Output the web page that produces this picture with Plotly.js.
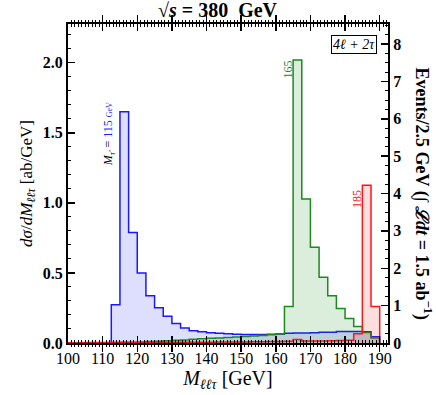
<!DOCTYPE html>
<html>
<head>
<meta charset="utf-8">
<script src="https://cdn.plot.ly/plotly-3.0.1.min.js"></script>
<style>
  html, body { margin: 0; padding: 0; background: #fff; }
  #chart { width: 436px; height: 395px; }
</style>
</head>
<body>
<div id="chart"></div>
<script>
// Histogram bins: 2.5 GeV wide, 100 -> 190 GeV
const binStart = 100;
const binWidth = 2.5;

// dsigma/dM [ab/GeV] per bin
const blue115 = [0, 0, 0, 0, 0,
  0.273, 1.65, 0.788, 0.499, 0.337, 0.252, 0.190, 0.140, 0.107, 0.088,
  0.080, 0.074, 0.070, 0.066, 0.062, 0.060, 0.060, 0.061, 0.062, 0.064,
  0.070, 0.072, 0.072, 0.074, 0.076, 0.077, 0.082, 0.082, 0.082, 0.080, 0.045];

const green165 = [0.002, 0.002, 0.003, 0.003, 0.004, 0.004, 0.005, 0.006, 0.008, 0.010,
  0.013, 0.016, 0.019, 0.022, 0.026, 0.030, 0.033, 0.036, 0.040, 0.043,
  0.047, 0.050, 0.053, 0.058, 0.064, 0.261, 2.019, 1.028, 0.684, 0.470,
  0.337, 0.247, 0.175, 0.118, 0.075, 0.035];

const red185 = [0.001, 0.001, 0.002, 0.002, 0.002, 0.003, 0.003, 0.003, 0.004, 0.004,
  0.004, 0.005, 0.005, 0.005, 0.006, 0.006, 0.006, 0.007, 0.007, 0.008,
  0.008, 0.009, 0.009, 0.010, 0.010, 0.012, 0.025, 0.014, 0.014, 0.015,
  0.016, 0.018, 0.020, 0.066, 1.126, 0.261];

// events per bin = lumi (1.5 ab^-1) * bin width * dsigma/dM
const lumi = 1.5;
const xRange = [100, 192.4];
const yMax = 2.276;

const serif = "Liberation Serif, DejaVu Serif, serif";

// bin edges + closing point so the step drops to zero at the end
function stepTrace(vals, line, fill) {
  const x = vals.map((_, i) => binStart + i * binWidth);
  x.push(binStart + vals.length * binWidth);
  return {
    type: "scatter",
    mode: "lines",
    x: x,
    y: vals.concat([0]),
    line: { shape: "hv", color: line, width: 1.5 },
    fill: "tozeroy",
    fillcolor: fill,
    hoverinfo: "skip",
    showlegend: false
  };
}

function ghost(xa, ya) {
  return { type: "scatter", x: [binStart], y: [0], xaxis: xa, yaxis: ya, mode: "markers",
    marker: { opacity: 0 }, hoverinfo: "skip", showlegend: false };
}

const data = [
  stepTrace(blue115, "rgb(25,25,255)", "rgba(0,0,255,0.13)"),
  stepTrace(green165, "rgb(30,135,30)", "rgba(0,128,0,0.14)"),
  stepTrace(red185, "rgb(255,20,20)", "rgba(255,0,0,0.13)"),
  ghost("x", "y2"),
  ghost("x2", "y3"),
  ghost("x2", "y4")
];

const frame = { ticks: "inside", ticklen: 7, tickwidth: 1.5, tickcolor: "#000",
  showline: true, linewidth: 2, linecolor: "#000", showgrid: false, zeroline: false };

// minor tick axes: no line, no labels, short ticks
const minorAx = { ticks: "inside", ticklen: 3, tickwidth: 1, tickcolor: "#000",
  showline: false, showgrid: false, zeroline: false, showticklabels: false };

const layout = {
  width: 436,
  height: 395,
  margin: { l: 68, r: 48, t: 24, b: 52 },
  paper_bgcolor: "#fff",
  plot_bgcolor: "#fff",
  font: { family: serif, color: "#000" },
  annotations: [
    {
      text: "<b>√<i>s</i>&nbsp;=&nbsp;380&nbsp;&nbsp;GeV</b>",
      xref: "paper", yref: "paper", x: 0.47, y: 1.0, yshift: 1,
      xanchor: "center", yanchor: "bottom", showarrow: false,
      font: { family: serif, size: 20 }
    },
    {
      text: "<b>Events/2.5 GeV (∫ <i>ℒdt</i> = 1.5 ab<sup>−1</sup>)</b>",
      xref: "paper", yref: "paper", x: 1.108, y: 0.47,
      xanchor: "center", yanchor: "middle", textangle: 90, showarrow: false,
      font: { family: serif, size: 18 }
    },
    {
      text: "<i>4ℓ + 2τ</i>",
      xref: "paper", yref: "paper", x: 0.966, y: 0.965,
      xanchor: "right", yanchor: "top", showarrow: false,
      bordercolor: "#000", borderwidth: 1, borderpad: 1, bgcolor: "#fff",
      font: { family: serif, size: 14 }
    },
    {
      text: "<span style='color:#000'><i>M</i><sub><i>τ'</i></sub> = </span>115 <span style='font-size:8px'>GeV</span>",
      xref: "x", yref: "y", x: 111.9, y: 1.49, textangle: -90, showarrow: false,
      font: { family: serif, size: 12, color: "rgb(25,25,255)" }
    },
    {
      text: "165",
      xref: "x", yref: "y", x: 163.5, y: 1.95, textangle: -90, showarrow: false,
      font: { family: serif, size: 12, color: "rgb(30,135,30)" }
    },
    {
      text: "185",
      xref: "x", yref: "y", x: 183.3, y: 1.03, textangle: -90, showarrow: false,
      font: { family: serif, size: 12, color: "rgb(255,20,20)" }
    }
  ],
  xaxis: Object.assign({}, frame, {
    range: xRange,
    tickmode: "linear", tick0: 100, dtick: 10,
    mirror: "allticks",
    tickfont: { family: serif, size: 16 },
    title: { text: "<i>M</i><sub><i>ℓℓτ</i></sub> [GeV]", font: { family: serif, size: 20 }, standoff: 2 }
  }),
  xaxis2: Object.assign({}, minorAx, {
    overlaying: "x", anchor: "y3", range: xRange,
    tickmode: "linear", tick0: 100, dtick: 1, mirror: "allticks"
  }),
  yaxis: Object.assign({}, frame, {
    range: [0, yMax],
    tickmode: "linear", tick0: 0, dtick: 0.5, tickformat: ".1f",
    mirror: false,
    tickfont: { family: serif, size: 16, weight: "bold" },
    title: { text: "<i>dσ</i>/<i>dM</i><sub><i>ℓℓτ</i></sub> [ab/GeV]", font: { family: serif, size: 17 }, standoff: 6 }
  }),
  yaxis2: Object.assign({}, frame, {
    overlaying: "y",
    side: "right",
    range: [0, yMax * lumi * binWidth],
    tickmode: "linear", tick0: 0, dtick: 1,
    tickfont: { family: serif, size: 16, weight: "bold" }
  }),
  yaxis3: Object.assign({}, minorAx, {
    overlaying: "y", side: "left", anchor: "x2", range: [0, yMax],
    tickmode: "linear", tick0: 0, dtick: 0.1
  }),
  yaxis4: Object.assign({}, minorAx, {
    overlaying: "y", side: "right", anchor: "x2", range: [0, yMax * lumi * binWidth],
    tickmode: "linear", tick0: 0, dtick: 0.25
  })
};

Plotly.newPlot("chart", data, layout, { displayModeBar: false, staticPlot: true });
</script>
</body>
</html>
